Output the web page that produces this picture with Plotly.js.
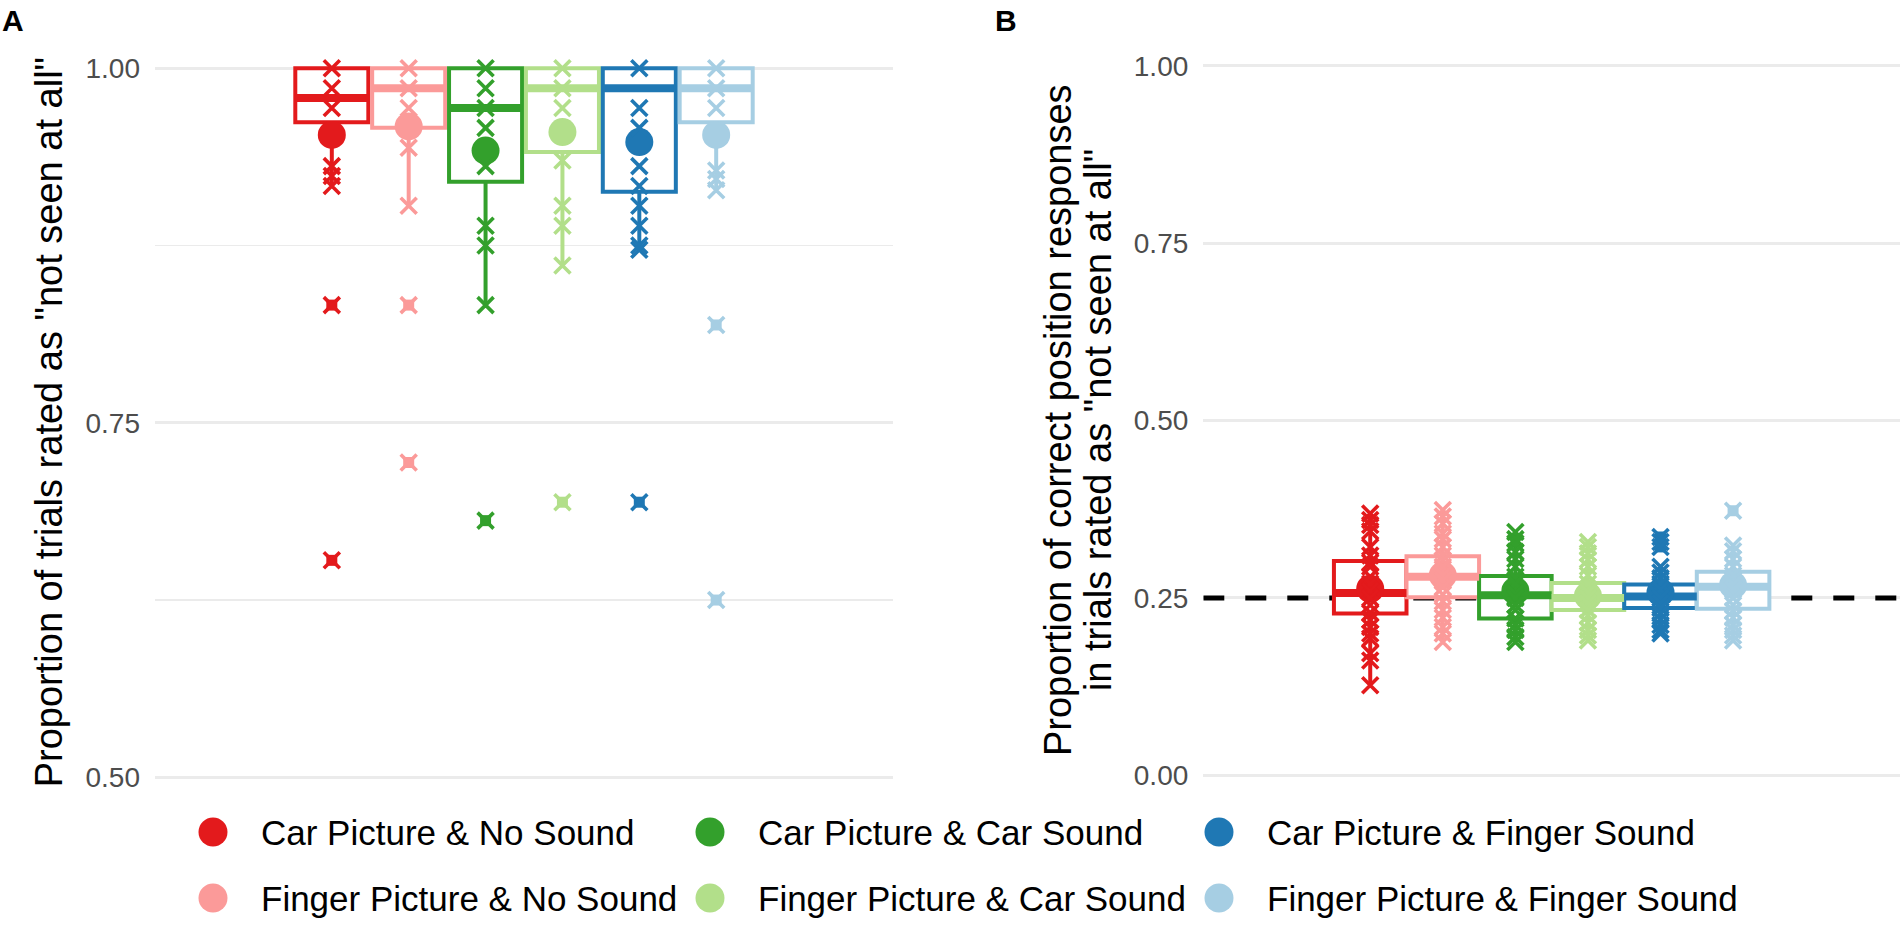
<!DOCTYPE html>
<html>
<head>
<meta charset="utf-8">
<script src="https://cdn.plot.ly/plotly-3.0.1.min.js"></script>
<style>
html, body { margin: 0; padding: 0; background: #fff; }
</style>
</head>
<body>
<div id="chart" style="width:1900px;height:933px;"></div>
<script>

var conditions = ['Car Picture & No Sound', 'Finger Picture & No Sound', 'Car Picture & Car Sound',
  'Finger Picture & Car Sound', 'Car Picture & Finger Sound', 'Finger Picture & Finger Sound'];
var colors = ['#E31A1C', '#FB9A99', '#33A02C', '#B2DF8A', '#1F78B4', '#A6CEE3'];

// panel A: proportion of trials rated "not seen at all"
var aQ1     = [0.962, 0.958, 0.920, 0.941, 0.913, 0.962];
var aMedian = [0.979, 0.986, 0.972, 0.986, 0.986, 0.986];
var aQ3     = [1, 1, 1, 1, 1, 1];
var aLow    = [0.917, 0.903, 0.833, 0.861, 0.872, 0.914];
var aHigh   = [1, 1, 1, 1, 1, 1];
var aMean   = [0.953, 0.959, 0.942, 0.955, 0.948, 0.953];
var aPoints = [
  [1, 0.986, 0.972, 0.931, 0.924, 0.917, 0.833, 0.653],
  [1, 0.986, 0.972, 0.944, 0.903, 0.833, 0.722],
  [1, 0.986, 0.972, 0.958, 0.931, 0.889, 0.875, 0.833, 0.681],
  [1, 0.986, 0.972, 0.935, 0.903, 0.889, 0.861, 0.694],
  [1, 0.972, 0.958, 0.931, 0.917, 0.903, 0.889, 0.875, 0.872, 0.694],
  [1, 0.986, 0.972, 0.928, 0.922, 0.914, 0.819, 0.625]
];

// panel B: proportion of correct position responses in those trials
var bQ1     = [0.228, 0.251, 0.221, 0.233, 0.236, 0.235];
var bMedian = [0.257, 0.280, 0.254, 0.250, 0.252, 0.266];
var bQ3     = [0.302, 0.309, 0.281, 0.271, 0.269, 0.287];
var bLow    = [0.127, 0.188, 0.188, 0.190, 0.200, 0.190];
var bHigh   = [0.369, 0.374, 0.343, 0.329, 0.294, 0.324];
var bMean   = [0.263, 0.282, 0.260, 0.253, 0.258, 0.268];
var bPoints = [
  [0.369, 0.360, 0.353, 0.344, 0.322, 0.310, 0.300, 0.294, 0.280, 0.270, 0.260, 0.250, 0.240, 0.229, 0.219, 0.209, 0.200, 0.193, 0.172, 0.162, 0.127],
  [0.374, 0.365, 0.355, 0.341, 0.333, 0.322, 0.310, 0.303, 0.294, 0.282, 0.275, 0.265, 0.255, 0.245, 0.233, 0.222, 0.209, 0.200, 0.188],
  [0.343, 0.333, 0.327, 0.315, 0.305, 0.294, 0.280, 0.270, 0.256, 0.250, 0.240, 0.233, 0.221, 0.212, 0.205, 0.195, 0.188],
  [0.329, 0.322, 0.313, 0.304, 0.294, 0.282, 0.270, 0.258, 0.250, 0.243, 0.233, 0.225, 0.215, 0.205, 0.197, 0.190],
  [0.336, 0.329, 0.322, 0.294, 0.286, 0.278, 0.270, 0.262, 0.250, 0.243, 0.236, 0.228, 0.220, 0.212, 0.205, 0.200],
  [0.373, 0.324, 0.316, 0.305, 0.294, 0.282, 0.270, 0.262, 0.250, 0.240, 0.232, 0.222, 0.212, 0.205, 0.197, 0.190]
];

var chanceLevel = 0.25;

var W = 1900, H = 933;
function px(x) { return x / W; }
function py(y) { return 1 - y / H; }

var FONT = 'Liberation Sans, Arial, Helvetica, sans-serif';
var xRange = [-1.3, 8.3];

var boxes = [], medians = [], means = [], outliers = [], crosses = [];

function addPanel(xa, ya, boxWidth, q1, median, q3, low, high, meanVals, points) {
  for (let i = 0; i < conditions.length; i++) {
    let p = i + 1;
    let c = colors[i];
    boxes.push({
      type: 'box', xaxis: xa, yaxis: ya,
      x: [p], q1: [q1[i]], median: [median[i]], q3: [q3[i]],
      lowerfence: [low[i]], upperfence: [high[i]],
      width: boxWidth, whiskerwidth: 0, boxpoints: false,
      fillcolor: 'white', line: {color: c, width: 4},
      hoverinfo: 'skip', showlegend: false
    });
    // ggplot draws the median thicker than the box outline
    medians.push({
      type: 'scatter', mode: 'lines', xaxis: xa, yaxis: ya,
      x: [p - boxWidth / 2, p + boxWidth / 2], y: [median[i], median[i]],
      line: {color: c, width: 8}, hoverinfo: 'skip', showlegend: false
    });
    means.push({
      type: 'scatter', mode: 'markers', xaxis: xa, yaxis: ya,
      x: [p], y: [meanVals[i]],
      marker: {symbol: 'circle', size: 28, color: c},
      hoverinfo: 'skip', showlegend: false
    });
    let out = points[i].filter(v => v < low[i] || v > high[i]);
    outliers.push({
      type: 'scatter', mode: 'markers', xaxis: xa, yaxis: ya,
      x: out.map(() => p), y: out,
      marker: {symbol: 'square', size: 11, color: c},
      hoverinfo: 'skip', showlegend: false
    });
    crosses.push({
      type: 'scatter', mode: 'markers', xaxis: xa, yaxis: ya,
      x: points[i].map(() => p), y: points[i],
      marker: {symbol: 'x-thin', size: 16, color: c, line: {color: c, width: 3.6}},
      hoverinfo: 'skip', showlegend: false
    });
  }
}

addPanel('x', 'y', 0.95, aQ1, aMedian, aQ3, aLow, aHigh, aMean, aPoints);
addPanel('x2', 'y2', 1.0, bQ1, bMedian, bQ3, bLow, bHigh, bMean, bPoints);

var data = boxes.concat(medians, means, outliers, crosses);

var xCommon = {
  range: xRange, showgrid: false, zeroline: false,
  showticklabels: false, ticks: '', fixedrange: true
};
var yCommon = {
  dtick: 0.25, tick0: 0, tickformat: '.2f', ticks: '',
  gridcolor: '#EBEBEB', gridwidth: 3, zeroline: false,
  tickfont: {family: FONT, size: 28, color: '#4D4D4D'},
  ticklabelstandoff: 14, fixedrange: true
};

// dashed chance line: above the grid, below the boxes
var shapes = [{
  type: 'line', xref: 'x2', x0: xRange[0], x1: xRange[1], yref: 'y2', y0: chanceLevel, y1: chanceLevel,
  line: {color: 'black', width: 5, dash: '21px,21px'}, layer: 'between'
}];

// legend: 3 columns, 2 rows, filled columnwise like ggplot
var legendCols = [213, 710, 1219];
var legendRows = [832, 898];
var dotR = 14.5;
var annotations = [];
for (let i = 0; i < conditions.length; i++) {
  let cx = legendCols[Math.floor(i / 2)];
  let cy = legendRows[i % 2];
  shapes.push({
    type: 'circle', xref: 'paper', yref: 'paper',
    x0: px(cx - dotR), x1: px(cx + dotR), y0: py(cy + dotR), y1: py(cy - dotR),
    fillcolor: colors[i], line: {width: 0}, layer: 'above'
  });
  annotations.push({
    text: conditions[i], xref: 'paper', yref: 'paper', x: px(cx + 46), y: py(cy),
    xanchor: 'left', yanchor: 'middle', showarrow: false,
    font: {family: FONT, size: 35, color: 'black'}
  });
}

function note(text, x, y, opts) {
  annotations.push(Object.assign({
    text: text, xref: 'paper', yref: 'paper', x: px(x), y: py(y),
    showarrow: false, font: {family: FONT, size: 38, color: 'black'}
  }, opts));
}
note('<b>A</b>', 0, 21, {xanchor: 'left', yanchor: 'middle', font: {family: FONT, size: 30, color: 'black'}});
note('<b>B</b>', 993, 21, {xanchor: 'left', yanchor: 'middle', font: {family: FONT, size: 30, color: 'black'}});
note('Proportion of trials rated as "not seen at all"', 48.5, 422.8, {textangle: -90, xanchor: 'center', yanchor: 'middle'});
note('Proportion of correct position responses', 1057.5, 420.6, {textangle: -90, xanchor: 'center', yanchor: 'middle'});
note('in trials rated as "not seen at all"', 1097.5, 420.6, {textangle: -90, xanchor: 'center', yanchor: 'middle'});

var layout = {
  width: W, height: H,
  margin: {l: 0, r: 0, t: 0, b: 0},
  paper_bgcolor: 'white', plot_bgcolor: 'white',
  showlegend: false,
  font: {family: FONT, color: 'black'},
  boxmode: 'overlay',
  xaxis: Object.assign({}, xCommon, {domain: [px(155), px(893)], anchor: 'y'}),
  yaxis: Object.assign({}, yCommon, {
    domain: [py(812.75), py(32.85)], range: [0.475, 1.025], anchor: 'x',
    minor: {dtick: 0.125, tick0: 0, showgrid: true, gridcolor: '#EBEBEB', gridwidth: 1.7, ticks: ''}
  }),
  xaxis2: Object.assign({}, xCommon, {domain: [px(1203.3), 1], anchor: 'y2'}),
  yaxis2: Object.assign({}, yCommon, {
    domain: [py(810.8), py(30.5)], range: [-0.05, 1.05], anchor: 'x2'
  }),
  shapes: shapes,
  annotations: annotations
};

Plotly.newPlot('chart', data, layout, {displayModeBar: false, staticPlot: true});

</script>
</body>
</html>
